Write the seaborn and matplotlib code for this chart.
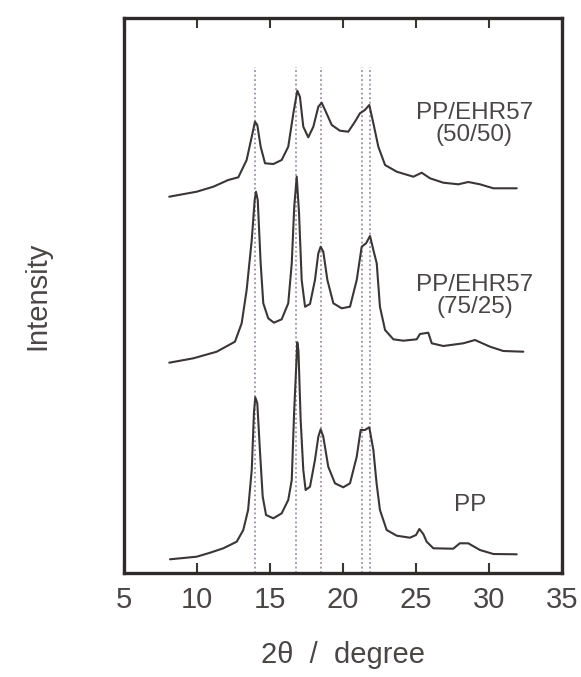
import numpy as np
import pandas as pd
import matplotlib
matplotlib.use("Agg")
import matplotlib.pyplot as plt
import seaborn as sns

# 2-theta (degree) and stacked intensity (arbitrary units) for each sample
pp_angle = [8.15, 9.98, 10.9, 11.8, 12.72, 13.17, 13.5, 13.75, 13.9, 13.99, 14.13, 14.32,
            14.5, 14.73, 15.23, 15.8, 16.25, 16.49, 16.65, 16.87, 16.95, 17.1, 17.28, 17.44,
            17.74, 18.08, 18.31, 18.47, 18.65, 18.99, 19.45, 20.02, 20.48, 20.94, 21.21,
            21.5, 21.8, 22.08, 22.3, 22.53, 22.99, 23.68, 24.59, 25.0, 25.23, 25.5, 25.73,
            26.19, 27.55, 28.0, 28.58, 29.38, 30.3, 31.9]
pp_int = [13.7, 16.3, 20.3, 24.7, 31.3, 43, 63, 103, 160, 175.7, 169.7, 120,
          76.3, 58, 54.7, 59.7, 73, 93, 160, 230.7, 222, 153, 103, 83,
          86.3, 113, 136.3, 143.7, 136.3, 106.3, 89.7, 85.7, 89.7, 116.3, 143,
          143, 145.7, 123, 89.7, 63, 43, 37.3, 35.3, 38, 44, 39, 31.3,
          24.7, 24.3, 29.7, 29.7, 23, 19, 18.7]

b75_angle = [8.1, 9.75, 11.35, 12.6, 13.06, 13.4, 13.75, 13.95, 14.04, 14.16, 14.36, 14.54,
             14.88, 15.27, 15.8, 16.25, 16.49, 16.66, 16.83, 16.99, 17.17, 17.4, 17.74,
             18.08, 18.31, 18.47, 18.65, 18.93, 19.34, 19.91, 20.48, 20.94, 21.28, 21.58,
             21.85, 22.08, 22.31, 22.53, 22.88, 23.45, 24.13, 25.05, 25.27, 25.84, 26.08,
             26.87, 28.24, 29.04, 30.07, 30.98, 32.35]
b75_int = [210.3, 214.7, 221.3, 231.3, 249.7, 283, 333, 373, 381.3, 373, 309.7, 269.7,
           254.7, 250.3, 253.7, 269.7, 309.7, 366.3, 396.3, 359.7, 293, 266.3, 269,
           293, 319.7, 326.3, 321.3, 293, 269.7, 264.7, 266.3, 293, 326.3, 329.7,
           337, 323, 309.7, 266.3, 243, 233.7, 232.3, 233.7, 239, 240.3, 229.7,
           227, 229.7, 233, 226.3, 222, 221.3]

b50_angle = [8.1, 9.98, 11.12, 12.14, 12.83, 13.4, 13.75, 13.97, 14.13, 14.36, 14.66, 15.23,
             15.8, 16.25, 16.6, 16.87, 17.05, 17.28, 17.62, 17.97, 18.31, 18.54, 18.77,
             19.23, 19.79, 20.36, 20.82, 21.16, 21.5, 21.8, 22.08, 22.42, 22.88, 23.68,
             24.82, 25.39, 25.96, 26.87, 27.9, 28.58, 29.38, 30.3, 31.9]
b50_int = [376.3, 381.3, 386.3, 393, 395.7, 413, 436.3, 451.3, 448, 426.3, 409.7, 409,
           413, 426.3, 459.7, 482.3, 476.3, 446.3, 435.7, 446.3, 466.3, 470.3, 463,
           448, 442.3, 441.3, 451.3, 459.7, 463, 468, 449.7, 426.3, 408, 401.3,
           396.3, 400.3, 394.7, 390.3, 388.7, 391, 388.7, 384.7, 384.7]

# alpha-PP reflection positions
reflections = [14.0, 16.8, 18.5, 21.3, 21.85]

sample_names = ["PP", "PP/EHR57 (75/25)", "PP/EHR57 (50/50)"]
label_text = ["PP", "PP/EHR57\n(75/25)", "PP/EHR57\n(50/50)"]
label_x = [28.7, 29.0, 29.0]
label_y = [68, 277, 449]

x_ticks = [5, 10, 15, 20, 25, 30, 35]

df = pd.concat([
    pd.DataFrame({"angle": pp_angle, "intensity": pp_int, "sample": sample_names[0]}),
    pd.DataFrame({"angle": b75_angle, "intensity": b75_int, "sample": sample_names[1]}),
    pd.DataFrame({"angle": b50_angle, "intensity": b50_int, "sample": sample_names[2]}),
], ignore_index=True)

sns.set_theme(style="white")
plt.rcParams["font.family"] = ["Liberation Sans", "DejaVu Sans"]

line_color = "#3b3636"
text_color = "#4a4646"

fig = plt.figure(figsize=(5.81, 6.77), dpi=100)
ax = fig.add_axes([124 / 581, 1 - 573 / 677, (562 - 124) / 581, (573 - 18) / 677])

for xr in reflections:
    ax.axvline(xr, ymin=0, ymax=(573 - 67) / 555, color="#9c8fa5",
               linestyle=(0, (1, 1.5)), linewidth=1.3, zorder=1)

sns.lineplot(data=df, x="angle", y="intensity", hue="sample",
             palette=[line_color] * 3, estimator=None, sort=False,
             legend=False, linewidth=1.5, ax=ax, zorder=2)

for txt, lx, ly in zip(label_text, label_x, label_y):
    ax.text(lx, ly, txt, ha="center", va="center", fontsize=17.5,
            color=text_color, linespacing=1.05)

ax.set_xlim(5, 35)
ax.set_ylim(0, 555)
ax.set_xticks(x_ticks)
ax.set_xticklabels([str(t) for t in x_ticks], fontsize=21, color=text_color)
ax.set_yticks([])
ax.tick_params(axis="x", direction="in", top=True, bottom=True, length=7,
               width=1.5, color=line_color, pad=9)
for sp in ax.spines.values():
    sp.set_linewidth(2.4)
    sp.set_color("#2e2a2a")

ax.set_xlabel("2θ  /  degree", fontsize=21, color=text_color, labelpad=20)
ax.set_ylabel("Intensity", fontsize=21, color=text_color, labelpad=52)

fig.savefig("out.png", dpi=100)
